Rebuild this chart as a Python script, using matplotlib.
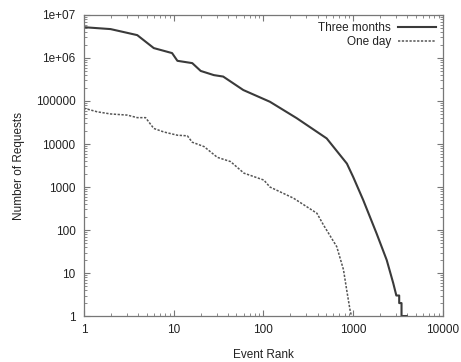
import matplotlib
matplotlib.use("Agg")
import matplotlib.pyplot as plt
from matplotlib.ticker import LogLocator, NullFormatter, FixedLocator, FixedFormatter

# =========================
# Dados
# =========================
rank_3m = [1, 1.98, 2.79, 3.93, 4.86, 6.0, 9.6, 11.0, 16.1, 20, 28, 35.6, 59.6,
           118, 234, 506, 850, 1000, 1290, 1820, 2360, 2790, 3020, 3250, 3250,
           3450, 3450, 3940]
req_3m = [5.2e6, 4.7e6, 4.0e6, 3.4e6, 2.4e6, 1.7e6, 1.3e6, 8.6e5, 7.6e5, 5.0e5,
          4.0e5, 3.7e5, 1.8e5, 9.6e4, 4.0e4, 1.35e4, 3.5e3, 1.7e3, 500, 83, 20,
          5.8, 3, 3, 2, 2, 1, 1]

rank_1d = [1, 1.41, 1.98, 3.04, 3.93, 4.86, 6.0, 7.8, 11.0, 14.2, 16.1, 21.8,
           30.6, 43, 60.6, 101, 118, 216, 394, 465, 655, 778, 846, 920, 955]
req_1d = [6.8e4, 5.6e4, 5.0e4, 4.7e4, 4.1e4, 4.1e4, 2.3e4, 1.9e4, 1.6e4, 1.55e4,
          1.1e4, 8.7e3, 4.9e3, 3.9e3, 2.1e3, 1.45e3, 1.0e3, 550, 245, 132, 41,
          12, 4, 1.4, 1]

x_ticks = [1, 10, 100, 1000, 10000]
x_labels = ["1", "10", "100", "1000", "10000"]
y_ticks = [1, 10, 100, 1000, 10000, 100000, 1e6, 1e7]
y_labels = ["1", "10", "100", "1000", "10000", "100000", "1e+06", "1e+07"]

plt.rcParams["font.family"] = ["Liberation Sans", "DejaVu Sans"]
plt.rcParams["font.size"] = 8.5

axis_color = "#777777"
line_color = "#3a3a3a"

fig = plt.figure(figsize=(4.61, 3.62), dpi=100)
ax = fig.add_axes([0.182, 0.127, 0.779, 0.8316])

ax.plot(rank_3m, req_3m, color=line_color, lw=1.5, label="Three months")
ax.plot(rank_1d, req_1d, color="#555555", lw=1.1, ls=(0, (1.5, 1)), label="One day")

ax.set_xscale("log")
ax.set_yscale("log")
ax.set_xlim(1, 10000)
ax.set_ylim(1, 1e7)

ax.xaxis.set_major_locator(FixedLocator(x_ticks))
ax.xaxis.set_major_formatter(FixedFormatter(x_labels))
ax.yaxis.set_major_locator(FixedLocator(y_ticks))
ax.yaxis.set_major_formatter(FixedFormatter(y_labels))
ax.xaxis.set_minor_locator(LogLocator(base=10, subs=range(2, 10), numticks=20))
ax.yaxis.set_minor_locator(LogLocator(base=10, subs=range(2, 10), numticks=20))
ax.xaxis.set_minor_formatter(NullFormatter())
ax.yaxis.set_minor_formatter(NullFormatter())

ax.tick_params(which="both", direction="in", top=True, right=True,
               color=axis_color, labelcolor="#222222")
ax.tick_params(which="major", length=4, width=0.8, pad=6)
ax.tick_params(which="minor", length=2, width=0.6)
for s in ax.spines.values():
    s.set_color(axis_color)
    s.set_linewidth(0.9)

ax.set_xlabel("Event Rank", color="#222222", labelpad=9)
ax.set_ylabel("Number of Requests", color="#222222", labelpad=8)

leg = ax.legend(loc="upper right", frameon=False, markerfirst=False,
                handlelength=3.2, handletextpad=0.6, borderaxespad=0.2,
                labelspacing=0.15)
for t in leg.get_texts():
    t.set_ha("right")
    t.set_color("#222222")

fig.savefig("out.png", dpi=100, facecolor="white")
plt.close(fig)
